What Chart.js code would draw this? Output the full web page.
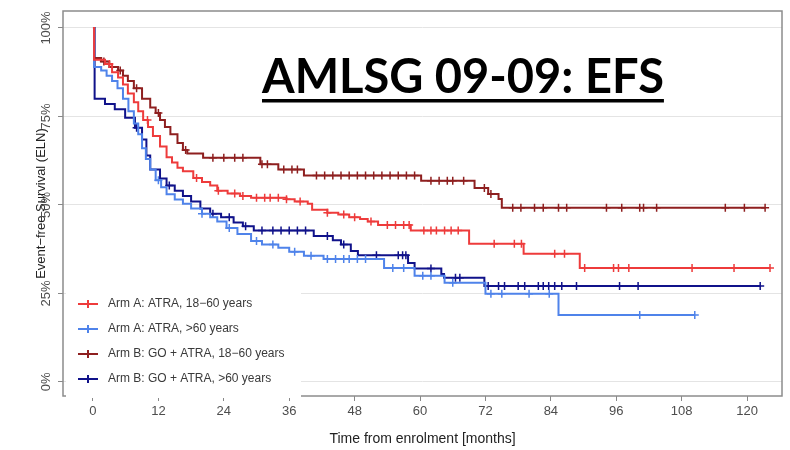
<!DOCTYPE html>
<html>
<head>
<meta charset="utf-8">
<script src="https://cdn.jsdelivr.net/npm/chart.js@4.4.1/dist/chart.umd.min.js"></script>
<style>
  html, body { margin: 0; padding: 0; background: #fff; }
  #wrap { position: relative; width: 790px; height: 450px; }
</style>
</head>
<body>
<div id="wrap"><canvas id="efsChart" width="790" height="450"></canvas></div>
<script>
const chartTitle = 'AMLSG 09-09: EFS';
const xTitle = 'Time from enrolment [months]';
const yTitle = 'Event\u2212free Survival (ELN)';
const xTicks = [0, 12, 24, 36, 48, 60, 72, 84, 96, 108, 120];
const yTicks = [0, 25, 50, 75, 100];

const armLabels = [
  'Arm A: ATRA, 18\u221260 years',
  'Arm A: ATRA, >60 years',
  'Arm B: GO + ATRA, 18\u221260 years',
  'Arm B: GO + ATRA, >60 years'
];
const armColors = ['#ee3b3b', '#4f83ea', '#8e1f1f', '#10128a'];

// Kaplan-Meier steps: [month, survival %]
const armAYoungSteps = [[0,100],[0.2,91],[2.2,89.8],[3.5,87.5],[4.6,86],[5.5,84],[6.4,81.5],[7.5,79],[8.3,76.5],[9.2,74],[10.1,72],[11,69.5],[12.3,66.5],[13.5,63.5],[14.5,62],[15.5,60.5],[16.5,59.5],[18.4,57.6],[20,56.5],[21.5,55.5],[22.8,54],[24.7,53.2],[27,52.5],[29,52],[35.5,51.6],[37,51],[39.4,50.3],[40.2,48.6],[43,47.8],[45,47.3],[47,46.5],[49,46],[50.4,45.3],[52.3,44.3],[58.3,42.8],[69,39],[79,36.2],[89.3,32.2],[124.2,32.2]];
const armAOldSteps = [[0,100],[0.2,89],[1.5,88],[2.5,86.5],[3.5,85],[4.5,83],[5.5,80],[6.5,76.5],[7.5,73],[8.3,70],[9,66],[9.7,63],[10.5,60],[11.5,57],[12.5,55],[13.5,53],[15,51.5],[16.5,50.3],[18,49],[20,47.5],[21.5,46.5],[22.8,45.3],[24.5,43.5],[26.5,41.8],[29,39.8],[31,38.8],[34,37.9],[36,36.8],[38.7,35.6],[42.3,34.7],[53.4,32.2],[59,30],[64.5,28],[72,24.9],[85.4,18.9],[110.4,18.9]];
const armBYoungSteps = [[0,100],[0.2,91.5],[1.5,90.5],[3,89],[4.6,88],[5.5,86.5],[6.4,85],[7.5,83],[9,80],[10.5,77.5],[11.5,76],[12.3,74],[13.2,72],[14.2,70],[15.5,67.5],[16.5,65.5],[17.3,64.5],[20.2,63.3],[30.7,61.5],[34,60],[38.7,58.3],[60.2,56.8],[70,54.8],[72.5,53.1],[74.4,51.7],[75,49.2],[123.3,49.2]];
const armBOldSteps = [[0,100],[0.3,80],[2.2,78.5],[4,77],[5.9,74.6],[7.7,71.8],[9,68.5],[9.8,64],[10.5,60],[12.3,57.5],[13.5,55.5],[15,54],[16.5,52.5],[18,51],[19.7,49],[21.5,47.5],[23.5,46.5],[25.8,45],[27.5,44],[29.5,42.8],[40.5,41.2],[44,40],[45.5,38.8],[47.3,37],[48.6,35.8],[57.8,33.6],[59,32],[63.9,30.5],[64.4,29.4],[71.8,27.1],[122.4,27.1]];

// censoring times (months)
const armAYoungCensor = [3, 10, 19, 23, 26, 27.5, 30, 31.5, 32.5, 34, 35.5, 38, 43, 46, 48, 51, 54, 55.5, 57, 58, 60.7, 62, 63, 64.5, 65.7, 67, 73.6, 77.3, 78.6, 84.7, 86.5, 90.2, 95.5, 96.4, 98.3, 109.9, 117.6, 124.2];
const armAOldCensor = [12, 20, 25, 30, 33, 37, 40, 43, 44.5, 46, 47, 48.5, 50, 55, 57, 60.5, 62, 66, 73, 75, 80, 83.7, 100.3, 110.4];
const armBYoungCensor = [2, 5, 8, 12, 17, 22, 24, 26, 27.5, 31, 32, 35, 36.5, 37.5, 41, 42.5, 44, 45.5, 47, 48.5, 50, 51.5, 53, 54.5, 56, 57.5, 59, 62, 63.5, 65, 66, 68, 71.8, 73, 77, 78.5, 81, 82.6, 85.4, 86.9, 94.2, 97, 100.3, 101, 103.4, 116, 119.5, 123.3];
const armBOldCensor = [8, 14, 22, 25, 28, 31, 33, 34.5, 36, 37.5, 39, 43, 46, 52, 56, 56.8, 57.4, 62, 66.5, 67.3, 72.5, 74.4, 75.5, 78, 79.2, 81.7, 82.6, 83.6, 84.7, 86, 88.7, 96.6, 100, 122.4];

const allSteps = [armAYoungSteps, armAOldSteps, armBYoungSteps, armBOldSteps];
const allCensor = [armAYoungCensor, armAOldCensor, armBYoungCensor, armBOldCensor];

function survivalAt(steps, t) {
  let s = steps[0][1];
  steps.forEach(p => { if (p[0] <= t) s = p[1]; });
  return s;
}

const datasets = [];
allSteps.forEach((steps, i) => {
  datasets.push({
    label: armLabels[i],
    data: steps.map(p => ({ x: p[0], y: p[1] })),
    borderColor: armColors[i],
    borderWidth: 2,
    stepped: 'before',
    pointRadius: 0,
    fill: false
  });
  datasets.push({
    label: armLabels[i] + ' censored',
    data: allCensor[i].map(t => ({ x: t, y: survivalAt(steps, t) })),
    showLine: false,
    pointStyle: 'cross',
    pointRadius: 4,
    pointBorderWidth: 1.5,
    pointBorderColor: armColors[i],
    borderColor: armColors[i]
  });
});

const framePlugin = {
  id: 'frame',
  beforeDatasetsDraw(chart) {
    const ctx = chart.ctx, a = chart.chartArea;
    ctx.save();
    ctx.strokeStyle = '#8c8c8c';
    ctx.lineWidth = 1.5;
    ctx.strokeRect(a.left, a.top, a.right - a.left, a.bottom - a.top);
    ctx.restore();
  }
};

const overlayPlugin = {
  id: 'overlay',
  afterDraw(chart) {
    const ctx = chart.ctx;
    ctx.save();
    // legend box
    ctx.fillStyle = '#fff';
    ctx.fillRect(66, 286, 235, 112);
    ctx.font = '12px "Liberation Sans", Arial, sans-serif';
    ctx.textBaseline = 'middle';
    armLabels.forEach((label, i) => {
      const y = 304 + i * 25;
      ctx.strokeStyle = armColors[i];
      ctx.lineWidth = 2;
      ctx.beginPath();
      ctx.moveTo(78, y); ctx.lineTo(98, y);
      ctx.moveTo(88, y - 4); ctx.lineTo(88, y + 4);
      ctx.stroke();
      ctx.fillStyle = '#3a3a3a';
      ctx.fillText(label, 108, y);
    });
    // title
    ctx.fillStyle = '#000';
    ctx.font = 'bold 47px Lato, "Open Sans", sans-serif';
    ctx.textBaseline = 'alphabetic';
    ctx.fillText(chartTitle, 262, 93);
    const w = ctx.measureText(chartTitle).width;
    ctx.fillRect(262, 99, w, 3.5);
    ctx.restore();
  }
};

new Chart(document.getElementById('efsChart').getContext('2d'), {
  type: 'line',
  data: { datasets: datasets },
  options: {
    responsive: false,
    animation: false,
    layout: { padding: { top: 11, right: 8, left: 0, bottom: 0 } },
    plugins: { legend: { display: false }, tooltip: { enabled: false } },
    scales: {
      x: {
        type: 'linear',
        min: -5.5,
        max: 126.4,
        afterBuildTicks: s => { s.ticks = xTicks.map(v => ({ value: v })); },
        afterFit: s => { s.height = 54; },
        grid: { drawOnChartArea: false, drawTicks: true, tickLength: 5, tickColor: '#888' },
        border: { display: false },
        ticks: { color: '#4d4d4d', padding: 3, maxRotation: 0, font: { family: 'Liberation Sans', size: 13 } },
        title: { display: true, text: xTitle, color: '#222', padding: { top: 0, bottom: 2 }, font: { family: 'Liberation Sans', size: 14 } }
      },
      y: {
        min: -4,
        max: 104.8,
        afterBuildTicks: s => { s.ticks = yTicks.map(v => ({ value: v })); },
        afterFit: s => { s.width = 63; },
        grid: { color: '#e4e4e4', tickColor: '#888', tickLength: 5 },
        border: { display: false },
        ticks: { color: '#4d4d4d', padding: -5, minRotation: 90, maxRotation: 90, crossAlign: 'center', callback: v => v + '%', font: { family: 'Liberation Sans', size: 13 } },
        title: { display: true, text: yTitle, color: '#222', padding: { top: 34, bottom: 0 }, font: { family: 'Liberation Sans', size: 13 } }
      }
    }
  },
  plugins: [framePlugin, overlayPlugin]
});
</script>
</body>
</html>
